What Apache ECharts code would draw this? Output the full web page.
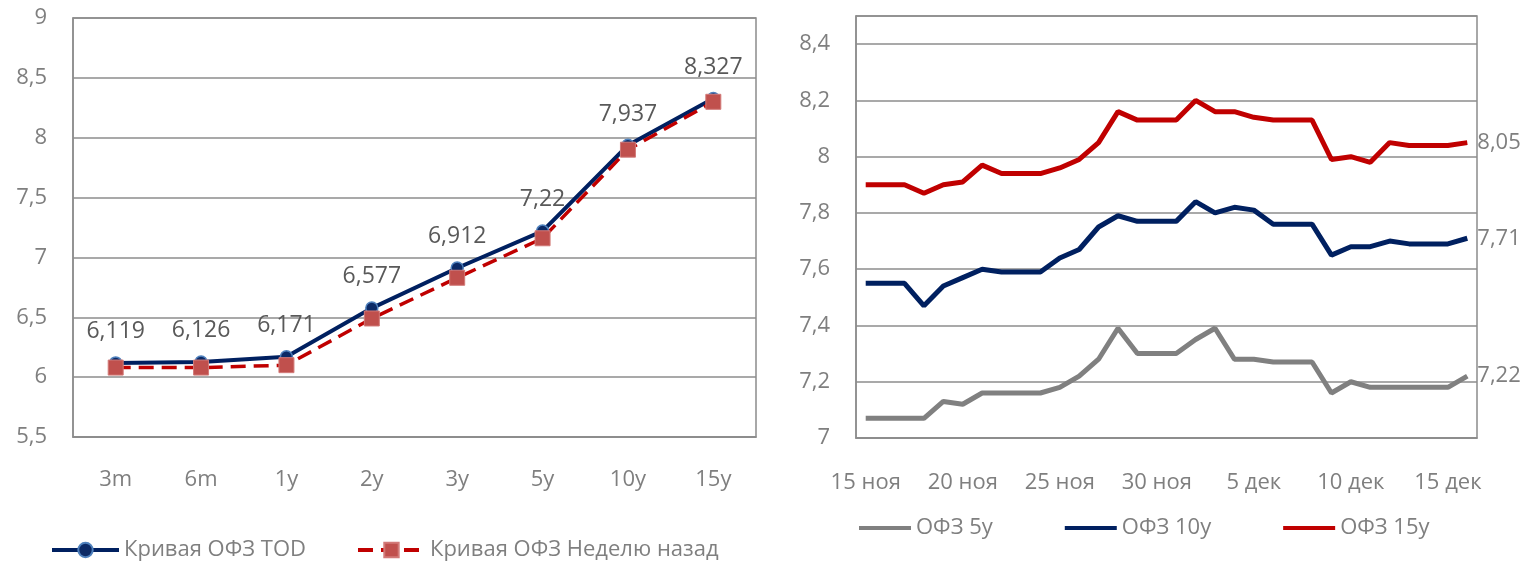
<!DOCTYPE html>
<html>
<head>
<meta charset="utf-8">
<script src="https://cdn.jsdelivr.net/npm/echarts@6/dist/echarts.min.js"></script>
<style>
  html, body { margin: 0; padding: 0; background: #fff; }
  #chart { width: 1537px; height: 561px; }
</style>
</head>
<body>
<div id="chart"></div>
<script>
// кривая ОФЗ по срокам
const tenors = ['3m', '6m', '1y', '2y', '3y', '5y', '10y', '15y']
const curveToday = [6.119, 6.126, 6.171, 6.577, 6.912, 7.22, 7.937, 8.327]
const curveWeekAgo = [6.08, 6.08, 6.10, 6.49, 6.83, 7.16, 7.90, 8.30]

// динамика доходностей по дням
const days = [
    '15 ноя', '16 ноя', '17 ноя', '18 ноя', '19 ноя', '20 ноя', '21 ноя', '22 ноя',
    '23 ноя', '24 ноя', '25 ноя', '26 ноя', '27 ноя', '28 ноя', '29 ноя', '30 ноя',
    '1 дек', '2 дек', '3 дек', '4 дек', '5 дек', '6 дек', '7 дек', '8 дек',
    '9 дек', '10 дек', '11 дек', '12 дек', '13 дек', '14 дек', '15 дек', '16 дек'
]
const ofz5 = [7.07, 7.07, 7.07, 7.07, 7.13, 7.12, 7.16, 7.16, 7.16, 7.16, 7.18, 7.22, 7.28, 7.39, 7.30, 7.30,
    7.30, 7.35, 7.39, 7.28, 7.28, 7.27, 7.27, 7.27, 7.16, 7.20, 7.18, 7.18, 7.18, 7.18, 7.18, 7.22]
const ofz10 = [7.55, 7.55, 7.55, 7.47, 7.54, 7.57, 7.60, 7.59, 7.59, 7.59, 7.64, 7.67, 7.75, 7.79, 7.77, 7.77,
    7.77, 7.84, 7.80, 7.82, 7.81, 7.76, 7.76, 7.76, 7.65, 7.68, 7.68, 7.70, 7.69, 7.69, 7.69, 7.71]
const ofz15 = [7.90, 7.90, 7.90, 7.87, 7.90, 7.91, 7.97, 7.94, 7.94, 7.94, 7.96, 7.99, 8.05, 8.16, 8.13, 8.13,
    8.13, 8.20, 8.16, 8.16, 8.14, 8.13, 8.13, 8.13, 7.99, 8.00, 7.98, 8.05, 8.04, 8.04, 8.04, 8.05]

const FONT = 'Open Sans'
const GRAY = '#7f7f7f'
const LINE_GRAY = '#8c8c8c'
const NAVY = '#002060'
const RED = '#c00000'

const comma = (v) => String(v).replace('.', ',')

const mChart = echarts.init(document.getElementById('chart'))

const axisLabel = {
    color: GRAY,
    fontFamily: FONT,
    fontSize: 22
}

const endLabel = {
    show: true,
    distance: 10,
    color: GRAY,
    fontFamily: FONT,
    fontSize: 22,
    formatter: (p) => comma(p.value)
}

const options = {
    animation: false,
    textStyle: { fontFamily: FONT },
    grid: [
        { left: 73, top: 18, width: 683, height: 419, show: true, borderColor: LINE_GRAY, borderWidth: 1.5 },
        { left: 856, top: 16, width: 621, height: 422, show: true, borderColor: LINE_GRAY, borderWidth: 1.5 }
    ],
    legend: [
        {
            data: ['Кривая ОФЗ TOD', 'Кривая ОФЗ Неделю назад'],
            left: 45,
            top: 534,
            itemWidth: 67,
            itemHeight: 18,
            itemGap: 50,
            lineStyle: { width: 4 },
            textStyle: { color: GRAY, fontFamily: FONT, fontSize: 22 }
        },
        {
            data: ['ОФЗ 5y', 'ОФЗ 10y', 'ОФЗ 15y'],
            left: 854,
            top: 512,
            icon: 'rect',
            itemWidth: 52,
            itemHeight: 4,
            itemGap: 72,
            textStyle: { color: GRAY, fontFamily: FONT, fontSize: 22 }
        }
    ],
    xAxis: [
        {
            gridIndex: 0,
            type: 'category',
            data: tenors,
            boundaryGap: true,
            axisTick: { show: false },
            axisLine: { lineStyle: { color: LINE_GRAY, width: 1.5 } },
            axisLabel: { ...axisLabel, margin: 32 }
        },
        {
            gridIndex: 1,
            type: 'category',
            data: days,
            boundaryGap: true,
            axisTick: { show: false },
            axisLine: { lineStyle: { color: LINE_GRAY, width: 1.5 } },
            axisLabel: { ...axisLabel, margin: 34, interval: 4 }
        }
    ],
    yAxis: [
        {
            gridIndex: 0,
            type: 'value',
            min: 5.5,
            max: 9,
            interval: 0.5,
            axisLine: { show: true, lineStyle: { color: LINE_GRAY, width: 1.5 } },
            axisTick: { show: false },
            splitLine: { lineStyle: { color: LINE_GRAY, width: 1.5 } },
            axisLabel: { ...axisLabel, margin: 26, formatter: comma }
        },
        {
            gridIndex: 1,
            type: 'value',
            min: 7,
            max: 8.5,
            interval: 0.2,
            axisLine: { show: true, lineStyle: { color: LINE_GRAY, width: 1.5 } },
            axisTick: { show: false },
            splitLine: { lineStyle: { color: LINE_GRAY, width: 1.5 } },
            axisLabel: { ...axisLabel, margin: 26, showMaxLabel: false, formatter: comma }
        }
    ],
    series: [
        {
            name: 'Кривая ОФЗ TOD',
            type: 'line',
            xAxisIndex: 0,
            yAxisIndex: 0,
            data: curveToday,
            symbol: 'circle',
            symbolSize: 12,
            lineStyle: { color: NAVY, width: 4 },
            itemStyle: { color: '#0c2a66', borderColor: '#4f81bd', borderWidth: 1.5 },
            label: {
                show: true,
                position: 'top',
                distance: 13,
                color: '#595959',
                fontFamily: FONT,
                fontSize: 23,
                formatter: (p) => comma(p.value)
            }
        },
        {
            name: 'Кривая ОФЗ Неделю назад',
            type: 'line',
            xAxisIndex: 0,
            yAxisIndex: 0,
            data: curveWeekAgo,
            symbol: 'rect',
            symbolSize: 15,
            lineStyle: { color: RED, width: 3.5, type: [15, 8] },
            itemStyle: { color: '#c0504d', borderColor: '#d27a78', borderWidth: 1 }
        },
        {
            name: 'ОФЗ 5y',
            type: 'line',
            xAxisIndex: 1,
            yAxisIndex: 1,
            data: ofz5,
            symbol: 'none',
            lineStyle: { color: '#808080', width: 5 },
            itemStyle: { color: '#808080' },
            endLabel
        },
        {
            name: 'ОФЗ 10y',
            type: 'line',
            xAxisIndex: 1,
            yAxisIndex: 1,
            data: ofz10,
            symbol: 'none',
            lineStyle: { color: NAVY, width: 5 },
            itemStyle: { color: NAVY },
            endLabel
        },
        {
            name: 'ОФЗ 15y',
            type: 'line',
            xAxisIndex: 1,
            yAxisIndex: 1,
            data: ofz15,
            symbol: 'none',
            lineStyle: { color: RED, width: 5 },
            itemStyle: { color: RED },
            endLabel
        }
    ]
}

mChart.setOption(options)
</script>
</body>
</html>
